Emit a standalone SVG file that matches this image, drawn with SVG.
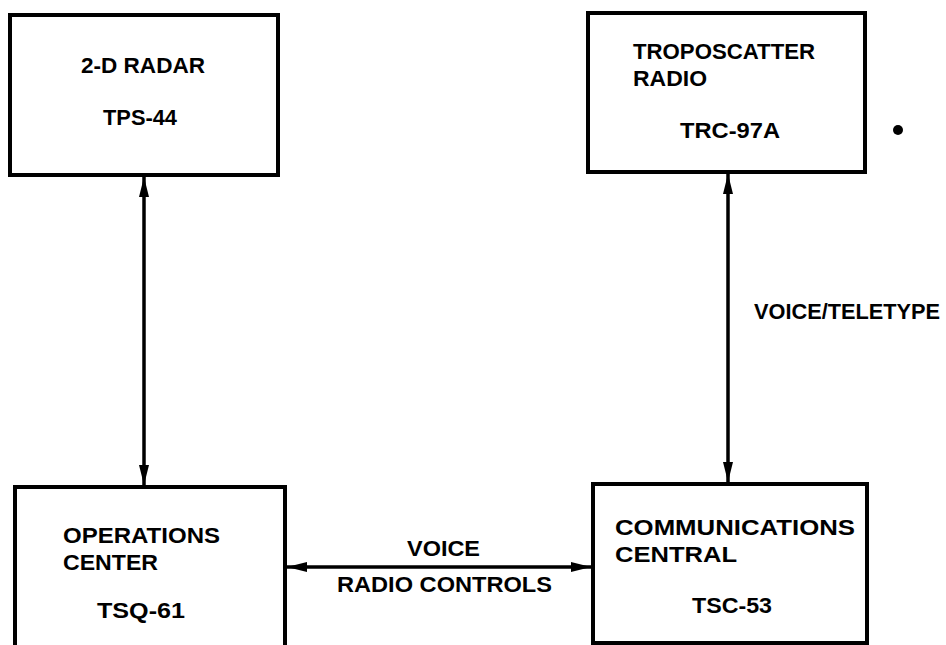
<svg xmlns="http://www.w3.org/2000/svg" width="946" height="645" viewBox="0 0 946 645">
<style>
.box{fill:#fff;stroke:#000;stroke-width:4}
.t{font-family:"Liberation Sans",Arial,sans-serif;font-weight:bold;font-size:22px;fill:#000}
.c{stroke:#000;stroke-width:3.5;fill:none}
</style>
<defs>
<marker id="ah" viewBox="0 0 20 10" refX="20" refY="5" markerWidth="20" markerHeight="10" markerUnits="userSpaceOnUse" orient="auto-start-reverse">
<path d="M0,0 L20,5 L0,10 Z" fill="#000"/>
</marker>
</defs>
<rect width="946" height="645" fill="#fff"/>
<g id="radar">
<rect class="box" x="10" y="15" width="268" height="160"/>
<text class="t" x="143" y="73" text-anchor="middle" textLength="124" lengthAdjust="spacingAndGlyphs">2-D RADAR</text>
<text class="t" x="140" y="125" text-anchor="middle" textLength="74" lengthAdjust="spacingAndGlyphs">TPS-44</text>
</g>
<g id="troposcatter">
<rect class="box" x="588" y="13" width="277" height="159"/>
<text class="t" x="633" y="59" textLength="182" lengthAdjust="spacingAndGlyphs">TROPOSCATTER</text>
<text class="t" x="633" y="86" textLength="74" lengthAdjust="spacingAndGlyphs">RADIO</text>
<text class="t" x="680" y="138" textLength="100" lengthAdjust="spacingAndGlyphs">TRC-97A</text>
</g>
<circle cx="898" cy="130" r="5" fill="#000"/>
<g id="operations">
<rect class="box" x="15" y="487" width="270" height="160"/>
<text class="t" x="63" y="543" textLength="157" lengthAdjust="spacingAndGlyphs">OPERATIONS</text>
<text class="t" x="63" y="570" textLength="95" lengthAdjust="spacingAndGlyphs">CENTER</text>
<text class="t" x="97" y="618" textLength="88" lengthAdjust="spacingAndGlyphs">TSQ-61</text>
</g>
<g id="communications">
<rect class="box" x="593" y="484" width="274" height="159"/>
<text class="t" x="615" y="535" textLength="240" lengthAdjust="spacingAndGlyphs">COMMUNICATIONS</text>
<text class="t" x="615" y="562" textLength="122" lengthAdjust="spacingAndGlyphs">CENTRAL</text>
<text class="t" x="692" y="613" textLength="80" lengthAdjust="spacingAndGlyphs">TSC-53</text>
</g>
<g id="connectors">
<line class="c" x1="144" y1="177" x2="144" y2="485" marker-start="url(#ah)" marker-end="url(#ah)"/>
<line class="c" x1="728" y1="174" x2="728" y2="482" marker-start="url(#ah)" marker-end="url(#ah)"/>
<line class="c" x1="287" y1="567" x2="591" y2="567" marker-start="url(#ah)" marker-end="url(#ah)"/>
<text class="t" x="754" y="319" textLength="186" lengthAdjust="spacingAndGlyphs">VOICE/TELETYPE</text>
<text class="t" x="407" y="556" textLength="73" lengthAdjust="spacingAndGlyphs">VOICE</text>
<text class="t" x="337" y="592" textLength="215" lengthAdjust="spacingAndGlyphs">RADIO CONTROLS</text>
</g>
</svg>
